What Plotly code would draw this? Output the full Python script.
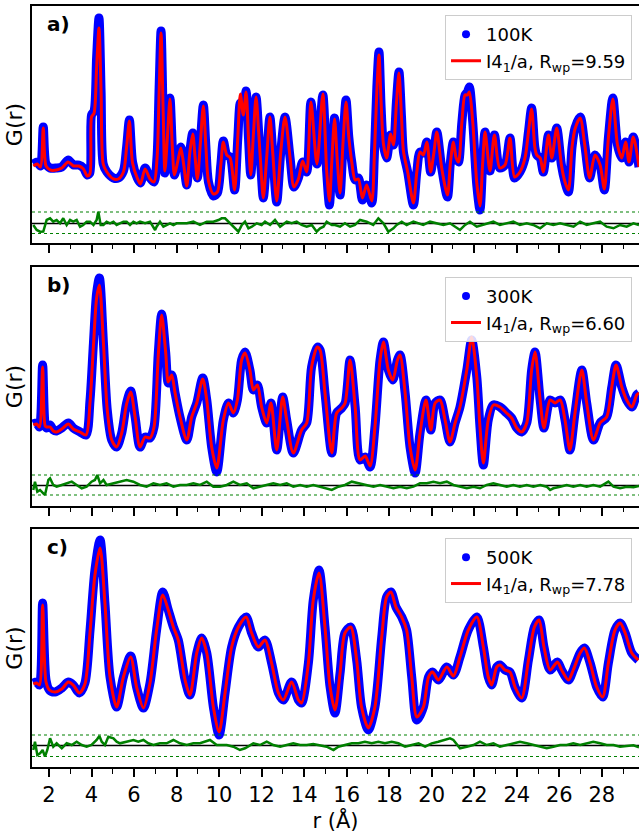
import plotly.graph_objects as go

# ---------------- data ----------------
# Panel a: 100 K
r_a = [1.26, 1.45, 1.6, 1.73, 1.86, 2.05, 2.35, 2.6, 2.9, 3.15, 3.4, 3.62, 3.8, 3.92, 4.0, 4.12, 4.24, 4.35, 4.45,
       4.55, 4.72, 5.03, 5.26, 5.5, 5.65, 5.78, 5.93, 6.15, 6.3, 6.52, 6.75, 6.94, 7.08, 7.18, 7.27, 7.37, 7.45,
       7.57, 7.69, 7.8, 7.9, 8.05, 8.2, 8.33, 8.48, 8.62, 8.76, 8.87, 8.98, 9.12, 9.26, 9.38, 9.5, 9.73, 9.92,
       10.08, 10.2, 10.36, 10.52, 10.73, 10.88, 11.0, 11.14, 11.27, 11.38, 11.49, 11.62, 11.74, 11.86, 11.96,
       12.08, 12.24, 12.39, 12.52, 12.71, 12.9, 13.1, 13.34, 13.52, 13.73, 13.93, 14.12, 14.32, 14.6, 14.88,
       15.06, 15.19, 15.3, 15.43, 15.56, 15.69, 15.83, 15.97, 16.1, 16.24, 16.4, 16.55, 16.74, 16.94, 17.18,
       17.3, 17.42, 17.52, 17.62, 17.73, 17.88, 18.07, 18.2, 18.34, 18.46, 18.58, 18.67, 18.87, 19.14, 19.3,
       19.45, 19.61, 19.77, 19.95, 20.1, 20.24, 20.47, 20.74, 20.88, 21.02, 21.15, 21.26, 21.42, 21.57, 21.68,
       21.77, 21.93, 22.12, 22.27, 22.4, 22.51, 22.74, 22.95, 23.2, 23.45, 23.68, 23.9, 24.15, 24.39, 24.55,
       24.7, 24.85, 24.94, 25.1, 25.25, 25.49, 25.65, 25.88, 26.1, 26.27, 26.43, 26.6, 26.74, 26.98, 27.2,
       27.43, 27.68, 27.92, 28.12, 28.31, 28.52, 28.74, 28.94, 29.12, 29.28, 29.48, 29.75]
obs_a = [0.3, 0.5, 0.1, 4.0, 0.3, -0.1, -0.1, 0.0, 0.7, 0.2, 0.2, -0.1, -0.8, -0.6, 5.2, 5.6, 11.0, 14.9, 7.5,
         0.3, -0.5, -1.1, -1.1, -0.4, 2.0, 4.7, 0.5, -1.1, -1.6, -0.1, -1.1, -1.5, 1.0, 8.0, 13.6, 5.0, -0.6,
         3.0, 6.9, 2.0, -0.8, 0.5, 2.0, 0.4, -1.8, 1.5, 3.4, 1.0, -1.1, 2.5, 6.2, 2.0, -1.5, -2.9, -2.6,
         0.2, 2.6, 1.2, 1.0, -2.3, 2.9, 6.4, 5.4, 7.6, 3.0, -0.8, 3.5, 7.0, 3.5, 0.2,
         -3.1, 1.0, 5.0, 1.5, -3.5, 1.5, 5.0, 0.9, -2.0, -1.1, 0.5, -0.5, 6.5, 0.3, 7.2,
         -0.5, -3.8, 0.5, 4.9, 0.5, -2.8, 2.5, 6.7, 3.0, 0.5, -1.3, -1.1, -3.3, -1.8, -3.6,
         1.0, 8.0, 11.5, 6.0, 2.2, 0.9, 3.2, 2.2, 6.5, 9.5, 5.0, 1.5, -0.5, -3.8, -0.5,
         1.5, 1.4, 2.5, -0.5, 1.5, 3.5, -0.1, -3.0, 0.5, 2.5, 1.0, 0.5, 4.5, 7.2, 7.5,
         8.0, 4.5, -1.8, -4.3, 0.5, 3.5, -0.4, 3.2, -0.1, 0.2, 2.9, -1.1, -0.5, 0.9, 3.5,
         5.9, 2.0, 1.2, 0.9, -0.5, 3.2, 0.9, 3.9, 0.2, -1.5, -2.5, 2.0, 3.9, 5.0, 2.2,
         -1.1, 1.2, 0.2, -2.3, 2.9, 6.9, 2.2, 0.9, 2.5, 0.5, 3.0, 0.0]
calc_a = [0.1, 0.3, 0.0, 3.9, 0.1, -0.3, -0.3, -0.1, 0.5, 0.1, 0.1, -0.2, -0.9, -0.7, 5.0, 5.4, 10.0, 13.9, 7.5,
          0.3, -0.5, -1.2, -1.2, -0.5, 2.0, 4.6, 0.4, -1.1, -1.7, -0.2, -1.2, -1.5, 0.8, 7.5, 13.4, 5.5, -0.4,
          3.0, 6.8, 2.0, -0.8, 0.5, 1.9, 0.3, -1.9, 1.4, 3.3, 1.0, -1.2, 2.4, 6.1, 2.0, -1.4, -2.7, -2.5,
          0.2, 2.5, 1.2, 0.9, -2.3, 3.0, 7.3, 5.2, 7.5, 3.0, -0.8, 3.5, 7.0, 3.5, 0.2,
          -3.1, 1.0, 5.0, 1.5, -3.4, 1.5, 5.0, 0.9, -2.0, -1.2, 0.6, -0.5, 6.5, 0.3, 7.3,
          -0.4, -3.4, 0.5, 4.8, 0.6, -2.6, 2.5, 6.5, 3.0, 0.5, -1.3, -1.2, -3.1, -1.8, -3.4,
          1.0, 7.6, 11.2, 6.5, 2.3, 0.9, 3.3, 2.2, 6.3, 9.4, 5.0, 1.6, -0.5, -3.6, -0.5,
          1.5, 1.2, 2.5, -0.5, 1.4, 3.5, -0.1, -2.8, 0.4, 2.5, 0.9, 0.5, 4.5, 7.2, 7.2,
          7.5, 4.5, -1.6, -3.9, 0.5, 3.5, -0.4, 3.2, -0.1, 0.2, 2.9, -1.0, -0.5, 0.9, 3.5,
          5.8, 2.0, 1.2, 0.9, -0.5, 3.2, 0.9, 3.9, 0.2, -1.5, -2.3, 2.0, 3.8, 4.9, 2.2,
          -1.1, 1.2, 0.2, -2.2, 2.9, 6.8, 2.2, 0.9, 2.5, 0.5, 3.0, 0.0]
rd_a = [1.26, 1.42, 1.58, 1.73, 1.89, 2.05, 2.2, 2.36, 2.52, 2.67, 2.83, 2.99, 3.14, 3.3, 3.46, 3.61, 3.77, 3.93,
        4.09, 4.24, 4.32, 4.43, 4.56, 4.71, 4.87, 5.03, 5.18, 5.34, 5.5, 5.65, 5.81, 5.97, 6.12, 6.28, 6.52,
        6.75, 6.99, 7.06, 7.22, 7.38, 7.53, 7.69, 7.85, 8.0, 8.16, 8.48, 8.79, 9.1, 9.42, 9.73, 9.97, 10.12,
        10.28, 10.44, 10.67, 10.91, 11.07, 11.22, 11.38, 11.54, 11.77, 12.0, 12.16, 12.4, 12.63, 12.87, 13.18,
        13.41, 13.65, 13.88, 14.12, 14.36, 14.59, 14.75, 14.91, 15.06, 15.3, 15.45, 15.69, 15.92, 16.16, 16.39,
        16.63, 16.94, 17.25, 17.49, 17.73, 17.96, 18.2, 18.35, 18.59, 18.82, 19.14, 19.37, 19.6, 19.92, 20.24,
        20.55, 20.86, 21.1, 21.33, 21.57, 21.8, 22.12, 22.35, 22.59, 22.9, 23.21, 23.53, 23.84, 24.15, 24.47,
        24.78, 25.1, 25.41, 25.72, 26.04, 26.35, 26.67, 26.98, 27.29, 27.6, 27.92, 28.23, 28.55, 28.86, 29.17,
        29.49, 29.75]
diff_a = [-5.8, -6.3, -6.47, -6.45, -5.3, -5.13, -5.47, -5.3, -5.63, -5.13, -5.8, -5.3, -5.47, -5.3, -5.97, -5.8,
          -5.47, -5.47, -5.8, -5.3, -4.47, -5.8, -5.8, -5.47, -5.63, -5.47, -5.8, -5.63, -5.47, -5.47, -5.8,
          -5.47, -5.63, -5.47, -5.63, -5.47, -6.3, -5.97, -5.47, -5.97, -5.8, -5.63, -5.8, -5.63, -5.63, -5.63,
          -5.47, -5.8, -5.47, -5.47, -5.3, -5.13, -5.13, -5.47, -5.97, -6.47, -5.8, -5.47, -6.13, -5.97, -5.63,
          -5.8, -5.47, -5.8, -5.3, -5.97, -5.47, -5.63, -5.47, -5.8, -5.97, -5.8, -6.47, -6.13, -5.97, -5.47,
          -5.8, -5.8, -5.97, -5.63, -5.97, -5.8, -5.3, -5.47, -5.8, -5.13, -5.63, -6.47, -6.13, -5.8, -5.47,
          -5.8, -5.47, -5.63, -5.8, -5.47, -5.63, -5.8, -5.63, -5.97, -6.3, -5.8, -5.47, -5.97, -5.8, -5.63,
          -5.47, -5.8, -5.63, -5.47, -5.8, -5.63, -5.8, -6.13, -5.63, -5.8, -5.63, -5.8, -5.97, -5.47, -5.8,
          -5.63, -5.47, -5.97, -6.13, -5.8, -5.97, -5.63, -5.8]

# Panel b: 300 K
r_b = [1.26, 1.42, 1.55, 1.7, 1.82, 1.89, 2.05, 2.2, 2.36, 2.6, 2.91, 3.14, 3.46, 3.74, 3.93, 4.09, 4.24, 4.37,
       4.56, 4.74, 4.95, 5.18, 5.42, 5.65, 5.84, 6.05, 6.28, 6.52, 6.75, 6.94, 7.14, 7.3, 7.49, 7.61, 7.77,
       7.93, 8.16, 8.48, 8.71, 8.95, 9.23, 9.42, 9.65, 9.89, 10.2, 10.44, 10.67, 10.86, 11.06, 11.22, 11.45,
       11.61, 11.8, 12.0, 12.24, 12.44, 12.71, 12.99, 13.18, 13.49, 13.88, 14.12, 14.35, 14.62, 14.75, 14.98,
       15.3, 15.53, 15.77, 15.93, 16.16, 16.4, 16.63, 16.87, 17.1, 17.33, 17.57, 17.73, 17.96, 18.17, 18.39,
       18.51, 18.75, 18.98, 19.22, 19.45, 19.73, 19.96, 20.16, 20.39, 20.63, 20.86, 21.1, 21.33, 21.65, 21.88,
       22.12, 22.27, 22.43, 22.66, 22.9, 23.21, 23.52, 23.76, 24.0, 24.23, 24.47, 24.7, 24.86, 25.1, 25.28,
       25.57, 25.8, 26.04, 26.27, 26.5, 26.74, 27.06, 27.29, 27.61, 27.92, 28.23, 28.47, 28.67, 28.94, 29.17,
       29.41, 29.64, 29.75]
obs_b = [0.6, 0.7, 0.3, 6.5, 0.5, 0.2, 0.5, 0.0, -0.1, 0.2, 0.7, 0.2, -0.2, -0.5, 3.0, 8.7, 13.7, 15.2,
         8.7, 2.0, -1.0, -1.7, -0.3, 2.7, 3.9, 1.3, -1.7, -0.7, -0.8, 0.3, 7.7, 11.6, 7.7, 4.7, 5.5,
         3.7, 1.3, -1.0, 1.3, 2.7, 5.2, 3.0, -1.7, -4.2, 1.0, 2.7, 1.7, 3.0, 7.0, 7.8, 6.0,
         4.0, 4.5, 2.3, 0.7, 2.7, -2.0, 3.3, 1.0, -2.3, 0.0, 0.7, 6.3, 8.3, 8.0, 3.7,
         -2.3, 1.7, 2.2, 2.7, 7.0, 2.3, -3.0, -2.7, -3.7, 0.3, 7.0, 8.8, 6.0, 5.0, 7.0,
         7.5, 3.7, -1.7, -4.3, -0.3, 3.0, 0.0, 2.7, 3.0, 1.0, -1.2, 0.7, 2.3, 6.0, 9.0,
         5.3, 0.3, -3.5, 1.0, 2.5, 2.3, 1.7, 1.2, 0.2, -0.2, 0.7, 6.0, 7.8, 3.0, 0.2,
         3.0, 2.7, 3.0, 1.0, -2.0, 1.7, 6.0, 2.7, -1.0, 0.7, 1.3, 4.3, 6.5, 4.3, 3.0,
         2.3, 3.5, 3.7]
calc_b = [0.5, 0.6, 0.3, 6.3, 0.4, 0.3, 0.3, -0.1, -0.2, 0.1, 0.6, 0.1, -0.2, -0.5, 2.8, 8.4, 13.2, 14.5,
          8.7, 2.0, -1.0, -1.7, -0.3, 2.6, 3.8, 1.3, -1.7, -0.7, -0.8, 0.3, 7.5, 11.5, 7.7, 4.8, 5.5,
          3.7, 1.3, -1.0, 1.3, 2.7, 5.1, 3.0, -1.7, -3.8, 1.0, 2.7, 1.7, 3.0, 7.0, 7.7, 6.0,
          4.0, 4.5, 2.3, 0.7, 2.7, -2.0, 3.3, 1.0, -2.3, 0.0, 0.7, 6.3, 8.3, 8.0, 3.7,
          -2.3, 1.7, 2.2, 2.7, 7.0, 2.3, -3.0, -2.6, -3.6, 0.3, 7.0, 8.8, 6.0, 5.0, 7.0,
          7.5, 3.7, -1.7, -4.0, -0.3, 3.0, 0.0, 2.7, 3.0, 1.0, -1.2, 0.7, 2.3, 6.0, 9.3,
          5.3, 0.3, -3.3, 1.0, 2.5, 2.3, 1.7, 1.2, 0.2, -0.2, 0.7, 6.0, 7.8, 3.0, 0.2,
          3.0, 2.7, 3.0, 1.0, -2.0, 1.7, 6.0, 2.7, -1.0, 0.7, 1.3, 4.3, 6.5, 4.3, 3.0,
          2.3, 3.5, 3.7]
rd_b = [1.26, 1.34, 1.45, 1.58, 1.73, 1.81, 1.97, 2.05, 2.2, 2.36, 2.6, 2.83, 3.07, 3.3, 3.54, 3.77, 4.0, 4.16,
        4.27, 4.4, 4.56, 4.71, 5.03, 5.34, 5.65, 5.97, 6.28, 6.59, 6.91, 7.22, 7.53, 7.85, 8.16, 8.48, 8.79,
        9.1, 9.42, 9.73, 10.04, 10.36, 10.67, 10.98, 11.3, 11.61, 11.92, 12.24, 12.55, 12.87, 13.18, 13.49,
        13.81, 14.12, 14.43, 14.75, 15.06, 15.3, 15.61, 15.92, 16.24, 16.55, 16.86, 17.26, 17.57, 17.88, 18.2,
        18.51, 18.83, 19.14, 19.45, 19.77, 20.08, 20.39, 20.71, 21.02, 21.33, 21.65, 21.96, 22.27, 22.59, 22.9,
        23.21, 23.53, 23.84, 24.15, 24.47, 24.78, 25.1, 25.41, 25.57, 25.72, 26.04, 26.35, 26.66, 26.98, 27.29,
        27.6, 27.92, 28.31, 28.55, 28.86, 29.17, 29.49, 29.75]
diff_b = [-6.0, -5.17, -6.17, -6.0, -6.33, -6.5, -5.0, -4.83, -5.5, -5.67, -5.5, -5.33, -5.17, -5.5, -5.83, -5.67,
          -5.17, -5.0, -4.5, -5.33, -5.0, -5.5, -5.33, -5.17, -5.0, -5.17, -5.5, -5.67, -5.33, -5.5, -5.33,
          -5.67, -5.5, -5.5, -5.33, -5.5, -5.17, -5.67, -5.67, -5.5, -5.17, -5.5, -5.33, -5.83, -5.67, -5.5,
          -5.33, -5.5, -5.33, -5.67, -5.5, -5.67, -5.5, -5.67, -5.83, -6.0, -5.67, -5.5, -5.17, -5.33, -5.5,
          -5.67, -5.5, -5.67, -5.83, -5.67, -5.83, -5.67, -5.33, -5.33, -5.17, -5.33, -5.17, -5.5, -5.67, -5.83,
          -5.67, -5.83, -5.5, -5.33, -5.5, -5.67, -5.5, -5.67, -5.5, -5.67, -5.5, -5.67, -6.0, -5.83, -5.67,
          -5.5, -5.67, -5.5, -5.67, -5.5, -5.67, -5.17, -5.67, -5.83, -5.67, -5.73, -5.6]

# Panel c: 500 K
r_c = [1.26, 1.42, 1.55, 1.7, 1.86, 2.02, 2.28, 2.6, 2.91, 3.14, 3.43, 3.69, 3.93, 4.16, 4.4, 4.63, 4.87, 5.18,
       5.5, 5.84, 6.12, 6.44, 6.75, 7.06, 7.35, 7.61, 7.85, 8.08, 8.4, 8.63, 8.95, 9.18, 9.42, 9.73, 10.0,
       10.28, 10.59, 10.91, 11.27, 11.53, 11.85, 12.16, 12.47, 12.79, 13.02, 13.41, 13.73, 13.88, 14.2, 14.43,
       14.7, 14.98, 15.22, 15.45, 15.69, 15.92, 16.19, 16.47, 16.7, 17.02, 17.33, 17.65, 17.88, 18.08, 18.32,
       18.59, 18.82, 19.06, 19.3, 19.61, 19.85, 20.04, 20.31, 20.71, 21.02, 21.33, 21.72, 22.12, 22.43, 22.66,
       22.82, 23.06, 23.21, 23.45, 23.68, 23.92, 24.23, 24.55, 24.83, 25.05, 25.28, 25.57, 25.91, 26.11, 26.43,
       26.66, 26.98, 27.18, 27.45, 27.76, 28.04, 28.31, 28.62, 28.86, 29.1, 29.41, 29.72]
obs_c = [0.7, 0.8, 0.5, 8.7, 1.0, 0.0, -0.2, 0.2, 0.8, 0.5, -0.3, 0.7, 6.0, 12.0, 15.0, 8.7, 1.3, -1.7,
         1.3, 3.4, 0.3, -1.8, 0.7, 6.0, 9.8, 8.0, 6.3, 5.0, 1.0, -0.5, 3.7, 5.2, 3.7, -1.7, -4.5,
         -0.3, 4.3, 6.3, 7.3, 5.7, 4.3, 5.0, 2.7, -0.3, -1.0, 0.8, -1.0, -1.3, 2.7, 9.0,
         12.0, 6.3, 0.3, -2.3, 1.7, 5.7, 6.3, 3.0, -1.7, -4.0, -1.7, 5.3, 9.3, 9.8, 8.3,
         7.3, 6.0, 1.3, -3.0, -1.7, 1.3, 1.8, 1.0, 2.3, 1.5, 3.3, 6.0, 7.3, 4.3, 1.3,
         0.5, 2.3, 2.5, 2.0, 1.8, 0.3, -0.8, 3.0, 6.3, 7.0, 4.3, 2.0, 2.8, 2.0, 1.0,
         2.0, 3.7, 4.2, 2.7, 0.3, -0.7, 2.7, 6.0, 6.7, 5.7, 3.7, 3.0]
calc_c = [0.6, 0.7, 0.5, 8.5, 0.8, 0.0, -0.2, 0.1, 0.8, 0.5, -0.3, 0.6, 5.8, 11.5, 14.2, 8.7, 1.3, -1.7,
          1.3, 3.3, 0.3, -1.8, 0.7, 6.0, 9.5, 8.0, 6.3, 5.0, 1.0, -0.5, 3.7, 5.2, 3.7, -1.7, -4.2,
          -0.3, 4.3, 6.3, 7.3, 5.7, 4.3, 5.0, 2.7, -0.3, -1.0, 0.8, -1.0, -1.3, 2.7, 9.0,
          11.7, 6.3, 0.3, -2.0, 1.7, 5.7, 6.3, 3.0, -1.7, -3.8, -1.7, 5.3, 9.3, 9.8, 8.3,
          7.3, 6.0, 1.3, -2.7, -1.7, 1.3, 1.8, 1.0, 2.3, 1.4, 3.3, 6.0, 7.3, 4.3, 1.3,
          0.5, 2.3, 2.5, 2.0, 1.8, 0.3, -0.8, 3.0, 6.3, 7.0, 4.3, 2.0, 2.8, 2.0, 1.0,
          2.0, 3.7, 4.2, 2.7, 0.3, -0.7, 2.7, 6.0, 6.7, 5.7, 3.7, 3.0]
rd_c = [1.26, 1.34, 1.45, 1.58, 1.7, 1.81, 1.92, 2.05, 2.2, 2.36, 2.6, 2.83, 3.07, 3.3, 3.54, 3.77, 4.0, 4.24,
        4.37, 4.48, 4.63, 4.79, 5.03, 5.18, 5.34, 5.65, 5.97, 6.2, 6.44, 6.67, 6.91, 7.22, 7.53, 7.85, 8.16,
        8.48, 8.79, 9.1, 9.57, 9.89, 10.36, 10.67, 10.98, 11.22, 11.61, 11.92, 12.24, 12.55, 12.87, 13.18,
        13.49, 13.81, 14.12, 14.43, 14.75, 15.06, 15.38, 15.61, 15.92, 16.24, 16.55, 16.86, 17.18, 17.49,
        17.8, 18.12, 18.43, 18.75, 19.06, 19.38, 19.69, 20.0, 20.31, 20.63, 20.86, 21.02, 21.33, 21.65, 21.96,
        22.27, 22.59, 22.9, 23.21, 23.53, 23.84, 24.15, 24.47, 24.78, 25.1, 25.41, 25.72, 26.04, 26.35, 26.66,
        26.98, 27.29, 27.6, 27.92, 28.23, 28.55, 28.86, 29.17, 29.49, 29.75]
diff_c = [-6.0, -5.17, -6.5, -6.33, -6.0, -6.67, -6.0, -4.83, -5.67, -5.33, -5.83, -5.33, -5.5, -5.17, -5.5,
          -5.67, -5.5, -5.0, -4.6, -5.17, -5.5, -4.67, -4.83, -5.17, -5.33, -5.17, -5.0, -5.17, -5.0, -5.33,
          -5.5, -5.33, -5.33, -5.0, -5.33, -5.5, -5.33, -5.33, -5.0, -5.5, -5.5, -5.67, -6.0, -5.83, -5.33,
          -5.5, -5.17, -5.5, -5.67, -5.5, -5.33, -5.5, -5.5, -5.4, -5.5, -5.67, -6.0, -5.67, -5.5, -5.33,
          -5.33, -5.17, -5.33, -5.17, -5.33, -5.17, -5.33, -5.67, -5.5, -5.33, -5.67, -5.33, -5.17, -5.0,
          -4.83, -5.0, -5.83, -5.67, -5.5, -5.17, -5.5, -5.33, -5.67, -5.5, -5.33, -5.17, -5.33, -5.5, -5.67,
          -5.83, -5.67, -5.5, -5.5, -5.33, -5.5, -5.33, -5.17, -5.33, -5.5, -5.5, -5.67, -5.6, -5.53, -5.73]

temps = ["100K", "300K", "500K"]
rwp = ["9.59", "6.60", "7.78"]
tags = ["a)", "b)", "c)"]
diff_offsets = [-5.65, -5.55, -5.55]
diff_upper = [-4.5, -4.5, -4.5]
diff_lower = [-6.65, -6.5, -6.65]
y_ranges = [[-7.6, 16.1], [-7.6, 16.3], [-7.7, 16.1]]
x_range = [1.2, 29.75]
major_ticks = [2, 4, 6, 8, 10, 12, 14, 16, 18, 20, 22, 24, 26, 28]
minor_ticks = [3, 5, 7, 9, 11, 13, 15, 17, 19, 21, 23, 25, 27, 29]

# ---------------- figure ----------------
FONT = "DejaVu Sans"
W, H = 639, 836
ML, MR, MT, MB = 32, 0, 6, 69
domains = [[0.6886, 1.0], [0.343, 0.657], [0.0, 0.3127]]
legend_y = [0.988, 0.644, 0.301]

panels = [(r_a, obs_a, calc_a, rd_a, diff_a), (r_b, obs_b, calc_b, rd_b, diff_b),
          (r_c, obs_c, calc_c, rd_c, diff_c)]

fig = go.Figure()
for i, (r, obs, calc, rd, dif) in enumerate(panels):
    xa = "x" if i == 0 else f"x{i+1}"
    ya = "y" if i == 0 else f"y{i+1}"
    lg = "legend" if i == 0 else f"legend{i+1}"
    # observed (dense blue dots -> thick blue band)
    fig.add_trace(go.Scatter(x=r, y=obs, mode="lines", line=dict(color="#0000ff", width=9, shape="spline",
                             smoothing=0.8), showlegend=False, xaxis=xa, yaxis=ya, hoverinfo="skip"))
    fig.add_trace(go.Scatter(x=[None], y=[None], mode="markers", marker=dict(color="#0000ff", size=8),
                             name=temps[i], legend=lg, xaxis=xa, yaxis=ya))
    fig.add_trace(go.Scatter(x=r, y=calc, mode="lines", line=dict(color="#ff0000", width=3, shape="spline",
                             smoothing=0.8), name=f"I4<sub>1</sub>/a, R<sub>wp</sub>={rwp[i]}",
                             legend=lg, xaxis=xa, yaxis=ya))
    # difference baseline and dotted bounds
    fig.add_trace(go.Scatter(x=x_range, y=[diff_offsets[i]] * 2, mode="lines",
                             line=dict(color="black", width=1.5), showlegend=False, xaxis=xa, yaxis=ya))
    for yv in (diff_upper[i], diff_lower[i]):
        fig.add_trace(go.Scatter(x=x_range, y=[yv, yv], mode="lines",
                                 line=dict(color="#008000", width=1.2, dash="dot"), showlegend=False,
                                 xaxis=xa, yaxis=ya))
    fig.add_trace(go.Scatter(x=rd, y=dif, mode="lines", line=dict(color="#008000", width=2.5),
                             showlegend=False, xaxis=xa, yaxis=ya))

    axis_x = dict(domain=[0, 1], range=x_range, anchor=ya, showline=True, linecolor="black", linewidth=2,
                  mirror=True, ticks="outside", ticklen=8, tickwidth=1.8, tickcolor="black",
                  tickvals=major_ticks, showticklabels=(i == 2), showgrid=False, zeroline=False,
                  tickfont=dict(family=FONT, size=21, color="black"),
                  minor=dict(tickvals=minor_ticks, ticks="outside", ticklen=4.5, tickwidth=1.3,
                             tickcolor="black", showgrid=False))
    if i == 2:
        axis_x["title"] = dict(text="r (Å)", font=dict(family=FONT, size=21, color="black"), standoff=6)
    axis_y = dict(domain=domains[i], range=y_ranges[i], anchor=xa, showline=True, linecolor="black",
                  linewidth=2, mirror=False, ticks="", showticklabels=False, showgrid=False, zeroline=False,
                  title=dict(text="G(r)", font=dict(family=FONT, size=22, color="black"), standoff=1))
    fig.layout[f"xaxis{'' if i == 0 else i+1}"] = axis_x
    fig.layout[f"yaxis{'' if i == 0 else i+1}"] = axis_y
    fig.layout[lg] = dict(x=0.9885, y=legend_y[i], xanchor="right", yanchor="top",
                          bgcolor="rgba(255,255,255,0.85)", bordercolor="#cccccc", borderwidth=1,
                          font=dict(family=FONT, size=18, color="black"), itemwidth=30, tracegroupgap=0)
    fig.add_annotation(text=f"<b>{tags[i]}</b>", xref=f"{xa} domain", yref=f"{ya} domain", x=0.021,
                       y=0.924, xanchor="left", yanchor="middle", showarrow=False,
                       font=dict(family=FONT, size=20, color="black"))

fig.update_layout(width=W, height=H, margin=dict(l=ML, r=MR, t=MT, b=MB, autoexpand=False),
                  paper_bgcolor="white", plot_bgcolor="white", showlegend=True,
                  font=dict(family=FONT, color="black"))
fig.write_html("out.html")
